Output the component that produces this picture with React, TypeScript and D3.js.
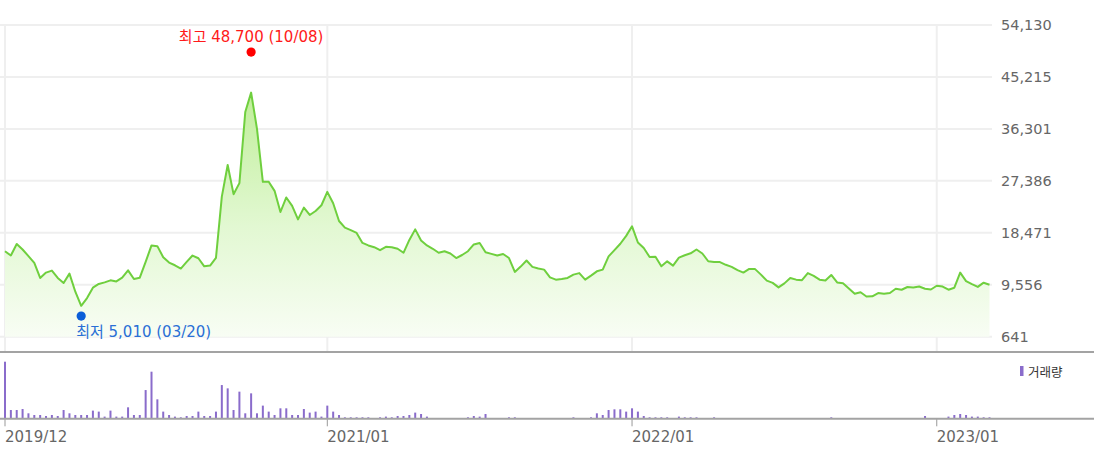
import React from "react";
import * as d3 from "d3";

// Weekly closing prices (won), first week of 2019/12 onward
const prices: number[] = [
  15310, 14570, 16560, 15610, 14480, 13310, 10720, 11640, 11980, 10720,
  9860, 11460, 8360, 5940, 7270, 9050, 9690, 9960, 10310, 10130,
  10770, 12030, 10550, 10770, 13480, 16300, 16180, 14280, 13360, 12900,
  12330, 13480, 14570, 14100, 12720, 12840, 14170, 24670, 30100, 25100,
  27000, 39200, 42530, 36320, 27220, 27220, 25670, 22040, 24530, 23080,
  20780, 22800, 21530, 22220, 23200, 25500, 23550, 20490, 19350, 18940,
  18450, 16730, 16300, 16000, 15490, 16070, 16000, 15730, 15040, 17250,
  19060, 17160, 16300, 15730, 15040, 15310, 14920, 14140, 14660, 15310,
  16470, 16730, 15140, 14860, 14570, 14830, 14140, 11760, 12670, 13710,
  12620, 12330, 12150, 10820, 10430, 10550, 10720, 11290, 11550, 10430,
  11120, 11860, 12150, 14430, 15490, 16590, 17940, 19580, 16810, 15860,
  14310, 14350, 12720, 13570, 12840, 14220, 14620, 14950, 15610, 14920,
  13590, 13480, 13450, 12980, 12620, 12070, 11640, 12270, 12240, 11290,
  10260, 9880, 9100, 9790, 10720, 10430, 10340, 11550, 11080, 10430,
  10290, 11240, 9960, 9820, 8930, 8010, 8270, 7550, 7580, 8130,
  8010, 8130, 8870, 8700, 9170, 9100, 9250, 8870, 8740, 9390,
  9250, 8700, 9050, 11640, 10170, 9650, 9190, 9910, 9560,
];

// Weekly volume (relative units)
const volumes: number[] = [
  567, 83, 83, 93, 50, 33, 33, 23, 33, 23,
  83, 50, 33, 33, 33, 77, 67, 17, 77, 17,
  17, 110, 33, 33, 283, 467, 190, 67, 33, 17,
  10, 23, 23, 67, 23, 23, 67, 333, 300, 83,
  267, 50, 250, 50, 127, 67, 33, 100, 100, 33,
  33, 93, 57, 67, 17, 127, 67, 33, 10, 10,
  10, 10, 10, 0, 10, 17, 10, 23, 23, 33,
  57, 43, 17, 0, 0, 0, 0, 0, 0, 10,
  23, 17, 43, 0, 0, 0, 10, 10, 0, 0,
  0, 0, 0, 0, 0, 0, 0, 10, 0, 0,
  10, 50, 33, 83, 90, 90, 67, 100, 67, 23,
  10, 10, 10, 10, 0, 17, 10, 10, 10, 0,
  0, 10, 0, 0, 0, 0, 0, 0, 0, 0,
  0, 0, 0, 0, 0, 0, 0, 0, 0, 0,
  0, 10, 0, 0, 0, 0, 0, 0, 0, 0,
  0, 0, 0, 0, 0, 0, 0, 23, 0, 0,
  0, 17, 33, 43, 33, 17, 17, 10, 10,
];

const yTicks: number[] = [54130, 45215, 36301, 27386, 18471, 9556, 641];
const xTickLabels: string[] = ["2019/12", "2021/01", "2022/01", "2023/01"];
const xTickIndex: number[] = [0, 55, 107, 159];

const highPoint = { index: 42, value: 48700, label: "최고 48,700 (10/08)" };
const lowPoint = { index: 13, value: 5010, label: "최저 5,010 (03/20)" };
const legendLabel = "거래량";

const FONT = "'DejaVu Sans', 'Noto Sans CJK KR', sans-serif";

export default function App() {
  const W = 1094;
  const H = 451;
  const x = d3.scaleLinear().domain([0, prices.length - 1]).range([5, 989.5]);
  const y = d3.scaleLinear().domain([641, 54130]).range([336.7, 25]);
  const volBase = 418.3;
  const yv = d3
    .scaleLinear()
    .domain([0, d3.max(volumes) as number])
    .range([volBase, 361.7]);

  const line = d3
    .line<number>()
    .x((_, i) => x(i))
    .y((d) => y(d));
  const area = d3
    .area<number>()
    .x((_, i) => x(i))
    .y0(y(641))
    .y1((d) => y(d));

  const hx = x(highPoint.index);
  const hy = y(highPoint.value) - 4.6;
  const lx = x(lowPoint.index);
  const ly = y(lowPoint.value) + 4.8;

  return (
    <svg
      width={W}
      height={H}
      style={{ position: "absolute", left: 0, top: 0, background: "#fff" }}
      fontFamily={FONT}
    >
      <defs>
        <linearGradient id="fillG" gradientUnits="userSpaceOnUse" x1="0" y1="90" x2="0" y2="337">
          <stop offset="0" stopColor="#bfee98" />
          <stop offset="0.55" stopColor="#e2f8d2" />
          <stop offset="1" stopColor="#f8fdf4" />
        </linearGradient>
      </defs>

      {/* horizontal gridlines */}
      {yTicks.map((t) => (
        <line key={t} x1={0} x2={992} y1={y(t)} y2={y(t)} stroke="#efefef" strokeWidth={2} />
      ))}
      {/* vertical gridlines */}
      {xTickIndex.map((i) => (
        <line key={i} x1={x(i)} x2={x(i)} y1={y(54130)} y2={351} stroke="#efefef" strokeWidth={2} />
      ))}

      <path d={area(prices) || ""} fill="url(#fillG)" />
      <path d={line(prices) || ""} fill="none" stroke="#6fcf3e" strokeWidth={2} strokeLinejoin="round" />

      {/* y axis labels */}
      {yTicks.map((t) => (
        <text key={t} x={1001} y={y(t)} dy="0.36em" fontSize={14.5} fill="#666">
          {d3.format(",")(t)}
        </text>
      ))}

      {/* high / low markers */}
      <circle cx={hx} cy={hy} r={4.6} fill="#ff0000" />
      <text x={hx} y={hy - 10.5} textAnchor="middle" fontSize={15} fill="#ff1a1a">
        {highPoint.label}
      </text>
      <circle cx={lx} cy={ly} r={4.6} fill="#0a5ed8" />
      <text x={lx - 5} y={ly + 21} textAnchor="start" fontSize={15} fill="#2a6fd6">
        {lowPoint.label}
      </text>

      {/* panel separators */}
      <line x1={0} x2={W} y1={352} y2={352} stroke="#a3a3a3" strokeWidth={2} />

      {/* volume bars */}
      {volumes.map((v, i) =>
        v > 0 ? (
          <rect
            key={i}
            x={x(i) - 1}
            y={yv(v)}
            width={2}
            height={volBase - yv(v)}
            fill="#8a6ccb"
          />
        ) : null
      )}
      <line x1={0} x2={W} y1={volBase + 0.5} y2={volBase + 0.5} stroke="#a3a3a3" strokeWidth={2} />

      {/* x ticks */}
      {xTickIndex.map((i, k) => (
        <g key={i}>
          <line x1={x(i)} x2={x(i)} y1={volBase + 1} y2={volBase + 8} stroke="#999" strokeWidth={1} />
          <text x={x(i)} y={441.5} fontSize={15} fill="#666">
            {xTickLabels[k]}
          </text>
        </g>
      ))}

      {/* legend */}
      <rect x={1020} y={366} width={3.5} height={10} fill="#8a6ccb" />
      <text x={1028} y={376.5} fontSize={12.5} fill="#333">
        {legendLabel}
      </text>
    </svg>
  );
}
